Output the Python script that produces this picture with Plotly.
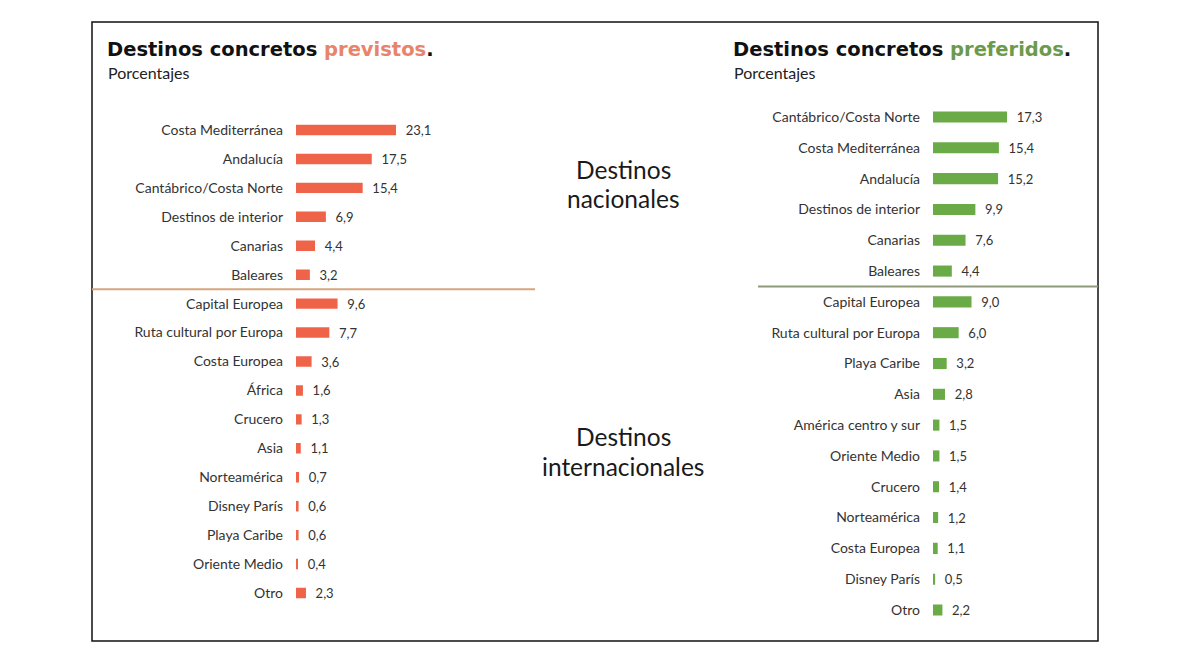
import plotly.graph_objects as go

# ---- data ----
prev_cats = ["Costa Mediterránea", "Andalucía", "Cantábrico/Costa Norte", "Destinos de interior",
             "Canarias", "Baleares", "Capital Europea", "Ruta cultural por Europa", "Costa Europea",
             "África", "Crucero", "Asia", "Norteamérica", "Disney París", "Playa Caribe",
             "Oriente Medio", "Otro"]
prev_vals = [23.1, 17.5, 15.4, 6.9, 4.4, 3.2, 9.6, 7.7, 3.6, 1.6, 1.3, 1.1, 0.7, 0.6, 0.6, 0.4, 2.3]

pref_cats = ["Cantábrico/Costa Norte", "Costa Mediterránea", "Andalucía", "Destinos de interior",
             "Canarias", "Baleares", "Capital Europea", "Ruta cultural por Europa", "Playa Caribe",
             "Asia", "América centro y sur", "Oriente Medio", "Crucero", "Norteamérica",
             "Costa Europea", "Disney París", "Otro"]
pref_vals = [17.3, 15.4, 15.2, 9.9, 7.6, 4.4, 9.0, 6.0, 3.2, 2.8, 1.5, 1.5, 1.4, 1.2, 1.1, 0.5, 2.2]

W, H = 1200, 668
RED = "#ef6448"
GREEN = "#6aab48"
LBL = "Lato"

def px(x):
    return x / W

def py(y):
    return 1 - y / H

fig = go.Figure()

VT = "\u00a0\u00a0%{x:.1f}"
fig.add_trace(go.Bar(
    x=prev_vals, y=prev_cats, orientation="h", marker=dict(color=RED, line=dict(width=0)),
    width=0.36, xaxis="x", yaxis="y",
    text=prev_vals, texttemplate=VT, textposition="outside", constraintext="none",
    textfont=dict(family=LBL, size=13, color="#333333"), cliponaxis=False,
))
fig.add_trace(go.Bar(
    x=pref_vals, y=pref_cats, orientation="h", marker=dict(color=GREEN, line=dict(width=0)),
    width=0.36, xaxis="x2", yaxis="y2",
    text=pref_vals, texttemplate=VT, textposition="outside", constraintext="none",
    textfont=dict(family=LBL, size=13, color="#333333"), cliponaxis=False,
))

R = 30
# left: 4.33 px/unit starting at x=296 ; right: 4.28 px/unit starting at 933
lx0, lx1 = 296, 296 + R * 4.33
rx0, rx1 = 933, 933 + R * 4.28
lsp = (593 - 130) / 16
rsp = (610 - 117) / 16

axcommon = dict(showgrid=False, zeroline=False, showline=False, showticklabels=False, ticks="")
ycommon = dict(showgrid=False, zeroline=False, showline=False, ticks="", autorange="reversed",
               tickfont=dict(family=LBL, size=14, color="#333333"), ticklabelstandoff=12)

fig.update_layout(
    width=W, height=H,
    margin=dict(l=0, r=0, t=0, b=0),
    paper_bgcolor="white", plot_bgcolor="rgba(0,0,0,0)",
    showlegend=False,
    separators=",.",
    xaxis=dict(domain=[px(lx0), px(lx1)], range=[0, R], **axcommon),
    yaxis=dict(domain=[py(593 + lsp / 2), py(130 - lsp / 2)], anchor="x", **ycommon),
    xaxis2=dict(domain=[px(rx0), px(rx1)], range=[0, R], anchor="y2", **axcommon),
    yaxis2=dict(domain=[py(610 + rsp / 2), py(117 - rsp / 2)], anchor="x2", **ycommon),
    bargap=0.64,
)

shapes = [
    dict(type="rect", xref="paper", yref="paper", x0=px(92), x1=px(1098), y0=py(641), y1=py(22),
         line=dict(color="#111111", width=1.5), fillcolor="rgba(0,0,0,0)"),
    dict(type="line", xref="paper", yref="y", x0=px(92), x1=px(535), y0=5.5, y1=5.5,
         line=dict(color="#d6a57c", width=2)),
    dict(type="line", xref="paper", yref="y2", x0=px(758), x1=px(1098), y0=5.5, y1=5.5,
         line=dict(color="#8e9a7a", width=2)),
]
fig.update_layout(shapes=shapes)

TF = "DejaVu Sans"
mid_font = dict(family=LBL, size=24.5, color="#1a1a1a")
annots = [
    dict(text="<b>Destinos concretos <span style='color:#e8846a'>previstos</span>.</b>",
         x=px(105), y=py(50), xanchor="left", yanchor="middle",
         font=dict(family=TF, size=19.5, color="#111111")),
    dict(text="Porcentajes", x=px(106), y=py(73), xanchor="left", yanchor="middle",
         font=dict(family=LBL, size=16, color="#222222")),
    dict(text="<b>Destinos concretos <span style='color:#6c9a4c'>preferidos</span>.</b>",
         x=px(731), y=py(50), xanchor="left", yanchor="middle",
         font=dict(family=TF, size=19.5, color="#111111")),
    dict(text="Porcentajes", x=px(732), y=py(73), xanchor="left", yanchor="middle",
         font=dict(family=LBL, size=16, color="#222222")),
    dict(text="Destinos", x=px(623), y=py(170), xanchor="center", yanchor="middle", font=mid_font),
    dict(text="nacionales", x=px(623), y=py(199), xanchor="center", yanchor="middle", font=mid_font),
    dict(text="Destinos", x=px(623), y=py(436), xanchor="center", yanchor="middle", font=mid_font),
    dict(text="internacionales", x=px(623), y=py(466), xanchor="center", yanchor="middle", font=mid_font),
]
for a in annots:
    a.update(xref="paper", yref="paper", showarrow=False)
fig.update_layout(annotations=annots)

fig.write_html("out.html")
